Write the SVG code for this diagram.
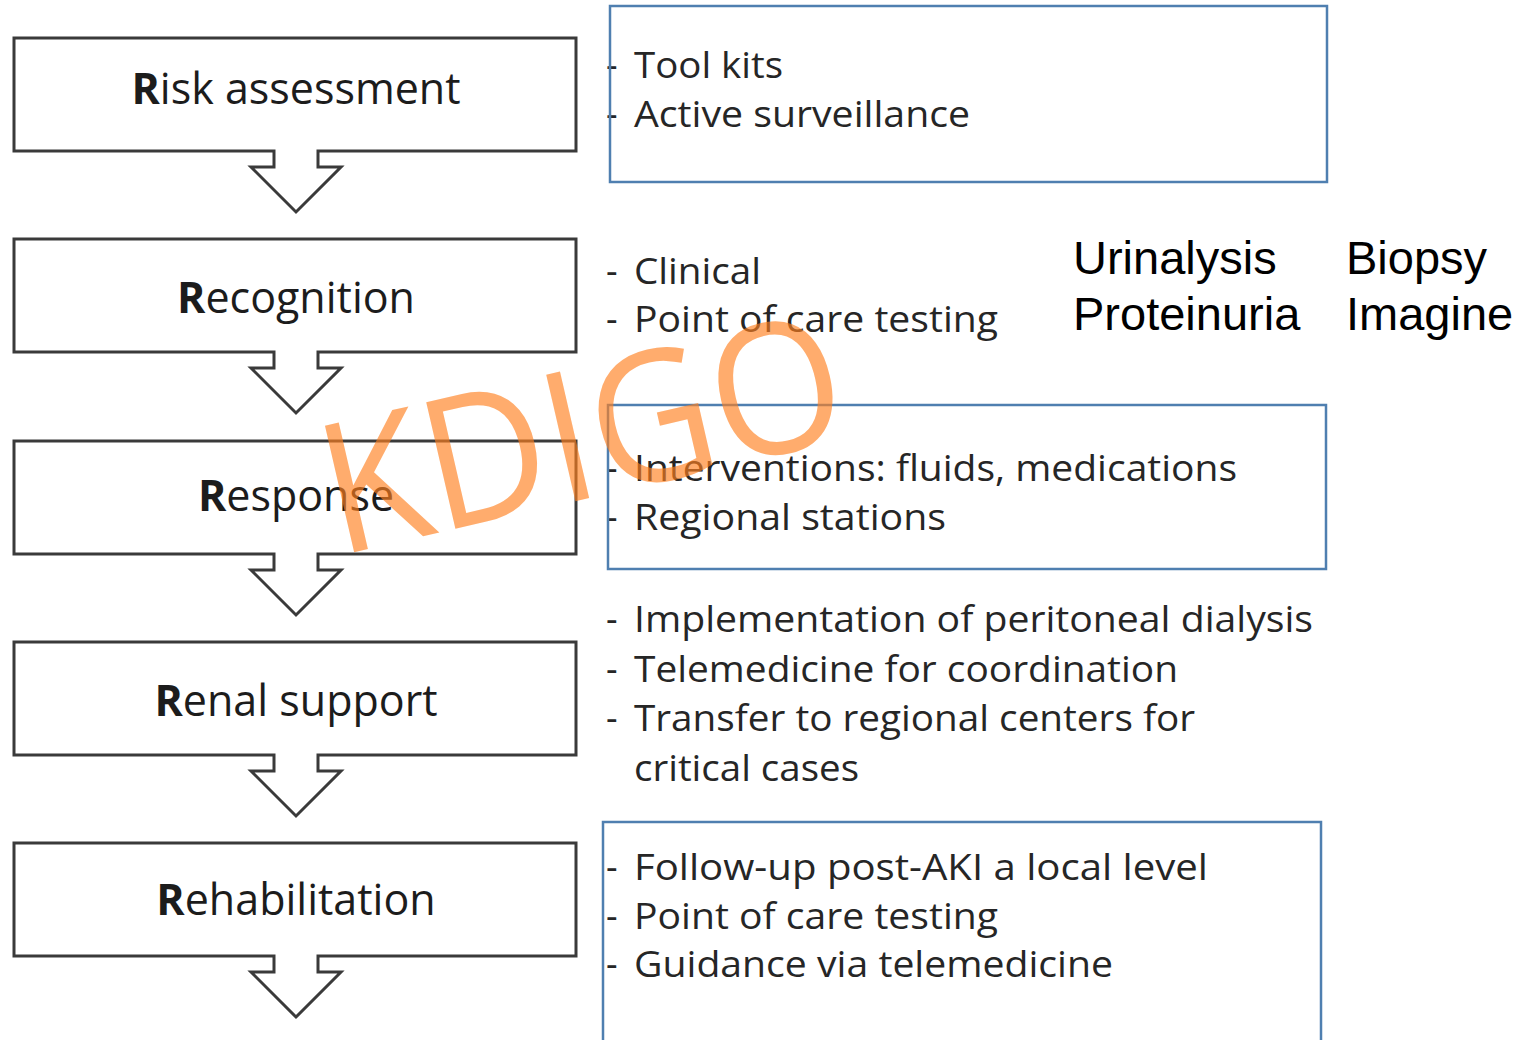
<svg xmlns="http://www.w3.org/2000/svg" width="1527" height="1040" viewBox="0 0 1527 1040">
  <style>
    .step { fill: #ffffff; stroke: #3a3a3a; stroke-width: 3; stroke-linejoin: miter; }
    .label { font-family: "Open Sans", "Noto Sans", "Liberation Sans", sans-serif; font-size: 43px; fill: #1c1c1c; text-anchor: middle; }
    .label .r { font-weight: bold; }
    .item { font-family: "Open Sans", "Noto Sans", "Liberation Sans", sans-serif; font-size: 36px; fill: #262626; }
    .frame { fill: none; stroke: #4f7fb0; stroke-width: 2.5; }
    .note { font-family: "Liberation Sans", Arial, sans-serif; font-size: 47px; fill: #000000; }
    .mark { font-family: "Open Sans", "Noto Sans", "Liberation Sans", sans-serif; font-size: 182px; fill: #ff7f1e; fill-opacity: 0.65; }
  </style>

  <!-- flow steps: box with a down arrow attached underneath -->
  <g id="connectors">
    <!-- the step-to-step arrows are part of each step outline -->
  </g>

  <g id="step-risk">
    <path class="step" d="M14,38 H576 V151 H318 V167 H341 L296,212 L251,167 H274 V151 H14 Z"/>
    <text class="label" x="296" y="104"><tspan class="r">R</tspan>isk assessment</text>
  </g>
  <g id="step-recognition">
    <path class="step" d="M14,239 H576 V352 H318 V368 H341 L296,413 L251,368 H274 V352 H14 Z"/>
    <text class="label" x="296" y="313"><tspan class="r">R</tspan>ecognition</text>
  </g>
  <g id="step-response">
    <path class="step" d="M14,441 H576 V554 H318 V570 H341 L296,615 L251,570 H274 V554 H14 Z"/>
    <text class="label" x="296" y="511"><tspan class="r">R</tspan>esponse</text>
  </g>
  <g id="step-renal">
    <path class="step" d="M14,642 H576 V755 H318 V771 H341 L296,816 L251,771 H274 V755 H14 Z"/>
    <text class="label" x="296" y="716"><tspan class="r">R</tspan>enal support</text>
  </g>
  <g id="step-rehab">
    <path class="step" d="M14,843 H576 V956 H318 V972 H341 L296,1017 L251,972 H274 V956 H14 Z"/>
    <text class="label" x="296" y="915"><tspan class="r">R</tspan>ehabilitation</text>
  </g>

  <!-- details for each step -->
  <g id="detail-risk">
    <text class="item" x="606" y="78">-</text>
    <text class="item" x="634" y="78" textLength="149" lengthAdjust="spacingAndGlyphs">Tool kits</text>
    <text class="item" x="606" y="127">-</text>
    <text class="item" x="634" y="127" textLength="336" lengthAdjust="spacingAndGlyphs">Active surveillance</text>
    <rect class="frame" x="610" y="6" width="717" height="176"/>
  </g>
  <g id="detail-recognition">
    <text class="item" x="606" y="284">-</text>
    <text class="item" x="634" y="284" textLength="127" lengthAdjust="spacingAndGlyphs">Clinical</text>
    <text class="item" x="606" y="332">-</text>
    <text class="item" x="634" y="332" textLength="364" lengthAdjust="spacingAndGlyphs">Point of care testing</text>
  </g>
  <g id="detail-tests">
    <text class="note" x="1073" y="274">Urinalysis</text>
    <text class="note" x="1073" y="330">Proteinuria</text>
    <text class="note" x="1346" y="274">Biopsy</text>
    <text class="note" x="1346" y="330">Imagine</text>
  </g>
  <g id="detail-response">
    <text class="item" x="606" y="481">-</text>
    <text class="item" x="634" y="481" textLength="603" lengthAdjust="spacingAndGlyphs">Interventions: fluids, medications</text>
    <text class="item" x="606" y="530">-</text>
    <text class="item" x="634" y="530" textLength="312" lengthAdjust="spacingAndGlyphs">Regional stations</text>
    <rect class="frame" x="608" y="405" width="718" height="164"/>
  </g>
  <g id="detail-renal">
    <text class="item" x="606" y="632">-</text>
    <text class="item" x="634" y="632" textLength="679" lengthAdjust="spacingAndGlyphs">Implementation of peritoneal dialysis</text>
    <text class="item" x="606" y="682">-</text>
    <text class="item" x="634" y="682" textLength="544" lengthAdjust="spacingAndGlyphs">Telemedicine for coordination</text>
    <text class="item" x="606" y="731">-</text>
    <text class="item" x="634" y="731" textLength="561" lengthAdjust="spacingAndGlyphs">Transfer to regional centers for</text>
    <text class="item" x="634" y="781" textLength="225" lengthAdjust="spacingAndGlyphs">critical cases</text>
  </g>
  <g id="detail-rehab">
    <text class="item" x="606" y="880">-</text>
    <text class="item" x="634" y="880" textLength="574" lengthAdjust="spacingAndGlyphs">Follow-up post-AKI a local level</text>
    <text class="item" x="606" y="929">-</text>
    <text class="item" x="634" y="929" textLength="364" lengthAdjust="spacingAndGlyphs">Point of care testing</text>
    <text class="item" x="606" y="977">-</text>
    <text class="item" x="634" y="977" textLength="479" lengthAdjust="spacingAndGlyphs">Guidance via telemedicine</text>
    <rect class="frame" x="603" y="822" width="718" height="230"/>
  </g>

  <!-- watermark -->
  <g id="watermark">
    <text class="mark" x="0" y="0" transform="translate(338,556) rotate(-13)" textLength="530" lengthAdjust="spacingAndGlyphs">KDIGO</text>
  </g>
</svg>
